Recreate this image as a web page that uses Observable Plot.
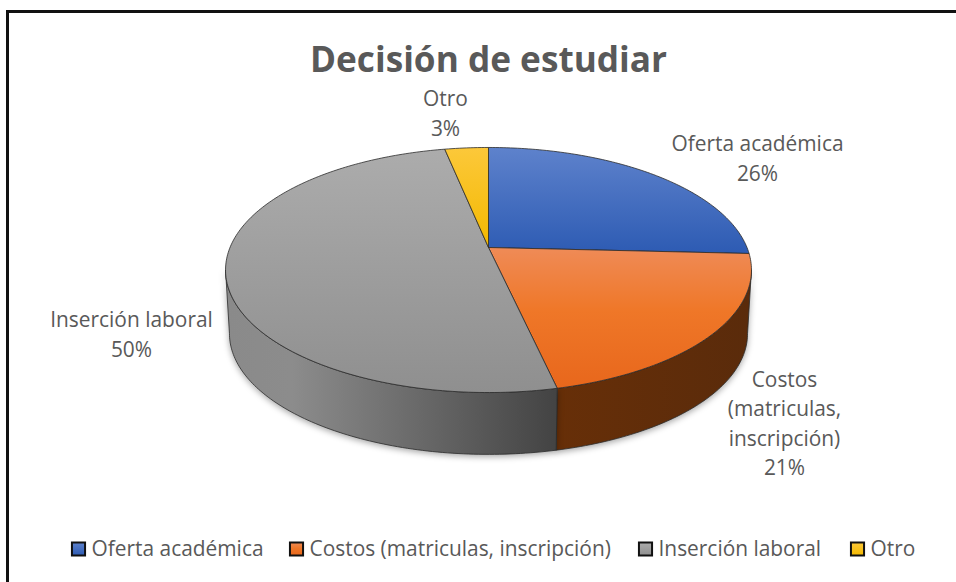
<!DOCTYPE html>
<html>
<head>
<meta charset="utf-8">
<script src="https://cdn.jsdelivr.net/npm/d3@7"></script>
<script src="https://cdn.jsdelivr.net/npm/@observablehq/plot@0.6"></script>
<style>html,body{margin:0;padding:0;background:#fff}svg{display:block}</style>
</head>
<body>
<div id="chart"></div>
<script>
const categories = ["Oferta académica", "Costos (matriculas, inscripción)", "Inserción laboral", "Otro"];
const values = [25.8, 20.7, 50.3, 3.2];
const percentLabels = ["26%", "21%", "50%", "3%"];
const sliceLabels = ["Oferta académica", "Costos\n(matriculas,\ninscripción)", "Inserción laboral", "Otro"];
const chartTitle = "Decisión de estudiar";

// layout
const W = 956, H = 582;
const labelX = [757, 784, 131, 445];
const labelY = [158, 423, 334, 113];
const legendSwatchX = [78, 296, 645, 857];
const legendY = 548.5;
const ink = "#595959";
const font = "'Open Sans', sans-serif";

// perspective view of the pie
const apex = [488, 247], A = 258.5, B = 118.4, k = 0.1837, depth = 64, shrink = 0.985;
function project(theta, level) {
  const u = Math.sin(theta), v = Math.cos(theta), w = 1 + k * v;
  const s = level ? shrink : 1;
  return [apex[0] + s * A * u / w, apex[1] + (level ? depth : 0) - s * B * v / w];
}
const total = d3.sum(values);
let run = 0;
const slices = values.map((v, i) => {
  const a0 = run / total * 2 * Math.PI; run += v;
  return {i, a0, a1: run / total * 2 * Math.PI};
});
function arc(s, level, reverse) {
  const n = Math.max(4, Math.round((s.a1 - s.a0) * 60));
  const pts = d3.range(n + 1).map(j => project(s.a0 + (s.a1 - s.a0) * j / n, level));
  return reverse ? pts.reverse() : pts;
}
const tops = slices.flatMap(s => [apex, ...arc(s, 0), apex].map(p => ({x: p[0], y: p[1], i: s.i})));
// the wall shows between the two points where the rim's outline turns back
const turn = Math.asin(k);
const frontStart = Math.PI / 2 + turn, frontEnd = 3 * Math.PI / 2 - turn;
const walls = slices.map(s => ({i: s.i, a0: Math.max(s.a0, frontStart), a1: Math.min(s.a1, frontEnd)}))
  .filter(s => s.a1 > s.a0)
  .flatMap(s => [...arc(s, 0), ...arc(s, 1, true), project(s.a0, 0)].map(p => ({x: p[0], y: p[1], i: s.i})));

const topFill = ["url(#gBlue)", "url(#gOrange)", "url(#gGray)", "url(#gYellow)"];
const wallFill = {1: "url(#wOrange)", 2: "url(#wGray)"};

function defs() {
  const ns = "http://www.w3.org/2000/svg";
  const d = document.createElementNS(ns, "defs");
  const grads = [
    ["gBlue", [["0", "#5e82cc"], ["1", "#2d5bb3"]], true],
    ["gOrange", [["0", "#ef8b57"], ["0.45", "#ef7728"], ["1", "#e8671c"]], true],
    ["gGray", [["0", "#acacac"], ["1", "#8f8f8f"]], true],
    ["gYellow", [["0", "#fcc83a"], ["1", "#f3b900"]], true],
    ["wOrange", [["0", "#672f08"], ["1", "#5a2b0b"]], false],
    ["wGray", [["0", "#8a8a8a"], ["0.2", "#8c8c8c"], ["1", "#434343"]], false]
  ];
  for (const [id, stops, vertical] of grads) {
    const g = document.createElementNS(ns, "linearGradient");
    g.setAttribute("id", id);
    g.setAttribute("x1", "0"); g.setAttribute("y1", "0");
    g.setAttribute("x2", vertical ? "0" : "1"); g.setAttribute("y2", vertical ? "1" : "0");
    for (const [o, c] of stops) {
      const st = document.createElementNS(ns, "stop");
      st.setAttribute("offset", o); st.setAttribute("stop-color", c);
      g.appendChild(st);
    }
    d.appendChild(g);
  }
  return d;
}

const labelRows = sliceLabels.map((t, i) => ({t: t + "\n" + percentLabels[i], x: labelX[i], y: labelY[i] - 2}));
const legendRows = categories.map((c, i) => ({c, i, x: legendSwatchX[i], y: legendY}));

const lineMark = (rows, fill, extra = {}) => Plot.line(rows, {x: "x", y: "y", fill, stroke: "#2b2b2b", strokeWidth: 0.8, curve: "linear", ...extra});

const chart = Plot.plot({
  width: W, height: H,
  margin: 0,
  x: {domain: [0, W], range: [0, W], axis: null},
  y: {domain: [0, H], range: [0, H], axis: null},
  style: {background: "#fff", fontFamily: font},
  marks: [
    defs,
    Plot.ruleY([11], {x1: 6, x2: W, stroke: "#111", strokeWidth: 3}),
    Plot.ruleX([7], {y1: 10, y2: H, stroke: "#111", strokeWidth: 3}),
    ...[1, 2].map(i => lineMark(walls.filter(d => d.i === i), wallFill[i], {imageFilter: "drop-shadow(0 2px 3px rgba(0,0,0,0.35))"})),
    ...[0, 1, 2, 3].map(i => lineMark(tops.filter(d => d.i === i), topFill[i])),
    Plot.text([chartTitle], {x: () => 488, y: () => 60, text: d => d, fontSize: 35.2, fontWeight: 700, fill: ink, fontFamily: font}),
    Plot.text(labelRows, {x: "x", y: "y", text: "t", fontSize: 20.9, lineHeight: 1.41, fill: ink, fontFamily: font}),
    Plot.dot(legendRows, {x: "x", y: "y", symbol: "square", r: 7.4, fill: d => topFill[d.i], stroke: "#111", strokeWidth: 2}),
    Plot.text(legendRows, {x: "x", y: "y", dx: 13, text: "c", textAnchor: "start", fontSize: 20.9, fill: ink, fontFamily: font})
  ]
});
document.getElementById("chart").appendChild(chart);
</script>
</body>
</html>
